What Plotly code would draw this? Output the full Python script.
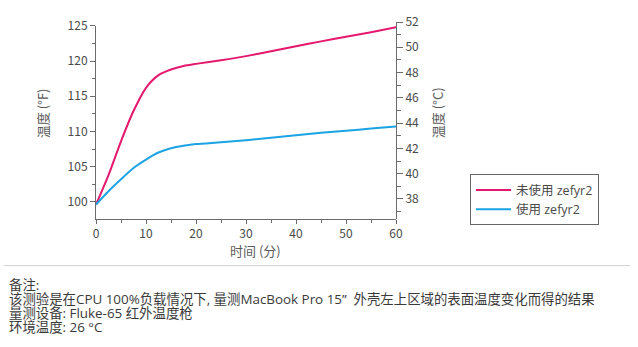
import plotly.graph_objects as go

# Time in minutes
minutes = [0, 2.5, 5, 7.5, 10, 12.5, 15, 17.5, 20, 25, 30, 35, 40, 45, 50, 55, 60]
# Surface temperature (°F) without / with zefyr2
temp_without = [99.6, 103.8, 108.6, 112.9, 116.2, 118.0, 118.8, 119.3, 119.6,
                120.1, 120.7, 121.4, 122.1, 122.8, 123.45, 124.1, 124.8]
temp_with = [99.6, 101.5, 103.2, 104.8, 106.0, 107.0, 107.6, 107.95, 108.2,
             108.45, 108.75, 109.1, 109.45, 109.8, 110.1, 110.4, 110.7]
series_names = ["未使用 zefyr2", "使用 zefyr2"]
series_colors = ["#E5186E", "#1BA3E3"]

f_ticks = [100, 105, 110, 115, 120, 125]
c_ticks = [38, 40, 42, 44, 46, 48, 50, 52]
x_ticks = [0, 10, 20, 30, 40, 50, 60]

notes = [
    "备注:",
    "该测验是在CPU 100%负载情况下, 量测MacBook Pro 15”  外壳左上区域的表面温度变化而得的结果",
    "量测设备: Fluke-65 红外温度枪",
    "环境温度: 26 °C",
]

FONT = "Noto Sans CJK SC, Open Sans, sans-serif"
TEXT_FONT = "Open Sans, Noto Sans CJK SC, sans-serif"
W, H = 638, 347
ML, MR, MT, MB = 96, 242, 16, 128
PW, PH = W - ML - MR, H - MT - MB

def px_x(px):
    return (px - ML) / PW

def px_y(py):
    return (H - MB - py) / PH

f_lo, f_hi = 97.55, 125.0
c_lo = (f_lo - 32) / 1.8

fig = go.Figure()
for vals, name, color in zip([temp_without, temp_with], series_names, series_colors):
    fig.add_trace(go.Scatter(
        x=minutes, y=vals, name=name, mode="lines",
        line=dict(color=color, width=2, shape="spline", smoothing=0.7),
    ))
# empty trace so the °C axis gets its own subplot
fig.add_trace(go.Scatter(x=[], y=[], yaxis="y2", showlegend=False, hoverinfo="skip"))

axis_common = dict(
    showline=True, linecolor="#6b6b6b", linewidth=1,
    ticks="outside", tickcolor="#6b6b6b", tickwidth=1,
    showgrid=False, zeroline=False,
    tickfont=dict(family=FONT, size=12, color="#4a4a4a"),
)

fig.update_layout(
    width=W, height=H,
    margin=dict(l=ML, r=MR, t=MT, b=MB, pad=0),
    paper_bgcolor="white", plot_bgcolor="rgba(0,0,0,0)",
    font=dict(family=FONT, color="#444"),
    xaxis=dict(range=[0, 60], tickvals=x_ticks, ticklen=4,
               minor=dict(dtick=5, tick0=0, ticklen=3, ticks="outside",
                          tickcolor="#6b6b6b", tickwidth=1),
               **axis_common),
    yaxis=dict(range=[f_lo, f_hi], domain=[0, px_y(20)], tickvals=f_ticks,
               ticklen=5,
               minor=dict(dtick=2.5, tick0=100, ticklen=3, ticks="outside",
                          tickcolor="#6b6b6b", tickwidth=1),
               **axis_common),
    yaxis2=dict(range=[c_lo, 52.0], domain=[0, 1], anchor="x", side="right",
                tickvals=c_ticks, ticklen=6,
                minor=dict(dtick=1, tick0=38, ticklen=4, ticks="outside",
                           tickcolor="#6b6b6b", tickwidth=1),
                **axis_common),
    legend=dict(
        x=px_x(470), y=px_y(173), xanchor="left", yanchor="top",
        bordercolor="#666", borderwidth=1, bgcolor="white",
        font=dict(family=TEXT_FONT, size=12.5, color="#4a4a4a"),
        tracegroupgap=0, itemwidth=35,
    ),
    showlegend=True,
)

title_font = dict(family=FONT, size=13, color="#5a5a5a")
for text, cx, cy, angle in [("温度 (°F)", 42, 110, -90),
                            ("温度 (°C)", 437, 110, -90),
                            ("时间 (分)", 255, 251, 0)]:
    fig.add_annotation(text=text, x=px_x(cx), y=px_y(cy), xref="paper", yref="paper",
                       xanchor="center", yanchor="middle", textangle=angle,
                       showarrow=False, font=title_font)

# separator above the notes
fig.add_shape(type="line", xref="paper", yref="paper",
              x0=px_x(4), x1=px_x(630), y0=px_y(267), y1=px_y(267),
              line=dict(color="#d0d0d0", width=1))

for i, line in enumerate(notes):
    fig.add_annotation(text=line, x=px_x(7), y=px_y(286.5 + i * 14.6),
                       xref="paper", yref="paper", xanchor="left", yanchor="middle",
                       showarrow=False,
                       font=dict(family=TEXT_FONT, size=13.4, color="#3a3a3a"))

fig.write_html("out.html")
